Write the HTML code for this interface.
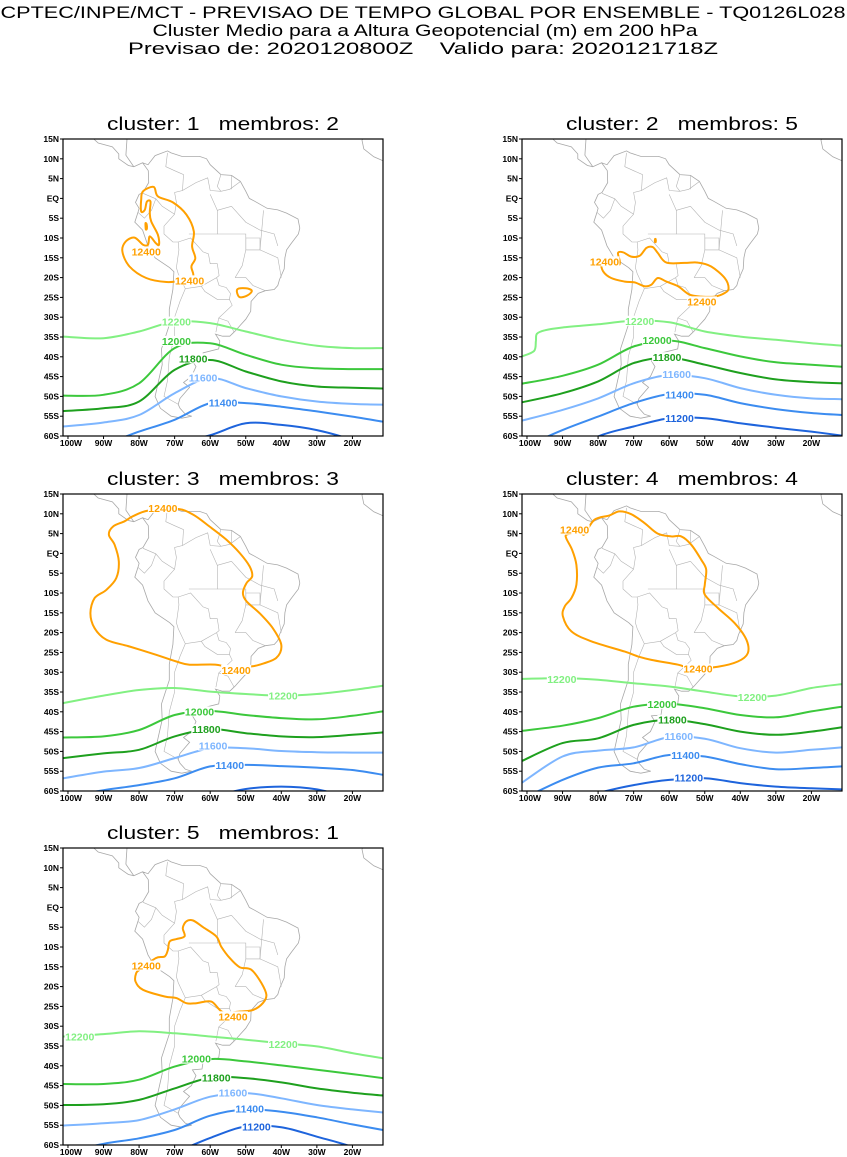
<!DOCTYPE html>
<html><head><meta charset="utf-8">
<style>
html,body{margin:0;padding:0;background:#fff;}
svg{display:block;}
text{font-family:"Liberation Sans",sans-serif;}
</style></head>
<body>
<svg id="chart" width="847" height="1157" viewBox="0 0 847 1157" xmlns="http://www.w3.org/2000/svg">
<rect width="847" height="1157" fill="#fff"/>
<g font-size="17" fill="#000">
<text x="423" y="18" text-anchor="middle" textLength="845" lengthAdjust="spacingAndGlyphs">CPTEC/INPE/MCT - PREVISAO DE TEMPO GLOBAL POR ENSEMBLE - TQ0126L028</text>
<text x="425" y="36" text-anchor="middle" textLength="545" lengthAdjust="spacingAndGlyphs">Cluster Medio para a Altura Geopotencial (m) em 200 hPa</text>
<text x="423" y="54" text-anchor="middle" textLength="590" lengthAdjust="spacingAndGlyphs">Previsao de: 2020120800Z&#160;&#160;&#160;&#160;Valido para: 2020121718Z</text>
</g>
</svg>
<script>
// ---- data ----
const LONS = [-101.4,-90,-80,-70,-60,-50,-40,-30,-20,-11.4];
const LEVELS = [12200,12000,11800,11600,11400,11200];
const LAT_TICKS = [15,10,5,0,-5,-10,-15,-20,-25,-30,-35,-40,-45,-50,-55,-60];
const LAT_LABELS = ["15N","10N","5N","EQ","5S","10S","15S","20S","25S","30S","35S","40S","45S","50S","55S","60S"];
const LON_TICKS = [-100,-90,-80,-70,-60,-50,-40,-30,-20];
const LON_LABELS = ["100W","90W","80W","70W","60W","50W","40W","30W","20W"];
const CLUSTERS = [1,2,3,4,5];
const MEMBROS = [2,5,3,4,1];

// panel 1
const p1_12200=[-34.9,-35.3,-33.6,-31.1,-31.5,-33.6,-35.7,-37.2,-37.8,-37.8];
const p1_12000=[-49.8,-49.6,-46.7,-37.8,-36.6,-39.5,-42.0,-42.9,-43.1,-43.1];
const p1_11800=[-53.7,-53.0,-51.3,-43.3,-40.8,-43.7,-46.2,-47.5,-47.8,-48.0];
const p1_11600=[-57.6,-56.6,-54.7,-49.2,-45.4,-47.9,-50.0,-51.3,-51.9,-52.1];
const p1_11400=[-64,-62,-58.9,-55.9,-51.7,-51.7,-52.6,-53.8,-55.1,-56.4];
const p1_11200=[-75,-70,-66,-62,-59.8,-56.8,-57.2,-58.5,-61,-64];
const p1_labelLon=[-69.5,-69.5,-64.8,-62,-56.4,null];
const p1_labelLat=[-31.1,-36,-40.4,-45.2,-51.6,null];
const p1_o1_lon=[-78.9,-75.9,-74.7,-70.5,-66.7,-64.6,-65.1,-64.2,-65.3,-64.8,-67.7,-72.3,-78.0,-82.7,-84.7,-83.8,-81.3,-78.9,-77.5,-77.0,-75.3,-74.4,-74.7,-76.6,-77.0,-76.8,-77.8,-78.4,-79.4,-79.4];
const p1_o1_lat=[1.8,2.9,0.5,-1.0,-4.1,-8.3,-12.1,-15.1,-17.2,-19.7,-20.7,-21.1,-20.1,-17.2,-13.4,-10.9,-9.9,-11.7,-11.7,-9.6,-11.3,-11.7,-9.2,-5.8,-3.7,-0.8,-0.8,-2.9,-3.3,-0.3];
const p1_o2_lon=[-52.4,-50,-48.3,-49.5,-51.8];
const p1_o2_lat=[-23.0,-22.7,-23.3,-24.5,-24.9];
const p1_o3_lon=[-78.2,-77.9,-77.8,-78.1];
const p1_o3_lat=[-6.3,-6.5,-7.6,-7.8];
const p1_oLabLon=[-78,-65.8];
const p1_oLabLat=[-13.4,-20.7];

// panel 2
const p2_12200_lon=[-101.4,-98,-97.5,-97.2,-95,-90,-80,-70,-60,-50,-40,-30,-20,-11.4];
const p2_12200_lat=[-39.9,-38.5,-36,-34.2,-33.3,-32.6,-31.8,-30.9,-31.3,-33.6,-34.9,-35.7,-36.6,-37.2];
const p2_12000=[-46.8,-44.8,-42,-37.4,-35.9,-37.8,-39.9,-41.4,-42,-42.5];
const p2_11800=[-51.5,-49.2,-46.2,-41.6,-40.2,-42,-44.1,-45.7,-46.4,-46.7];
const p2_11600=[-56.1,-53.4,-50.5,-46.7,-44.6,-45.4,-47.9,-49.6,-50.5,-50.7];
const p2_11400=[-63,-58.5,-55.1,-51.7,-49.4,-49.6,-51.7,-53.2,-54.2,-54.7];
const p2_11200=[-70,-65,-60.1,-57.6,-55.5,-55.5,-56.8,-57.9,-58.9,-59.9];
const p2_labelLon=[-68.3,-63.4,-60.6,-57.9,-57.1,-57.1];
const p2_labelLat=[-30.9,-35.7,-40.1,-44.4,-49.5,-55.5];
const p2_o1_lon=[-74.4,-73.0,-70.7,-68.3,-66.4,-64.6,-63.2,-60.8,-55.7,-51.9,-48.2,-44.4,-43.3,-44.4,-47.2,-51.0,-54.3,-57.5,-60.8,-63.2,-65.0,-66.9,-69.7,-72.5,-76.3,-78.6,-79.1,-77.7,-74.4,-73.9];
const p2_o1_lat=[-13.8,-13.6,-14.7,-14.5,-12.5,-12.3,-13.8,-16.2,-16.3,-16.2,-17.2,-20.1,-22.7,-23.9,-24.8,-24.8,-24.3,-22.2,-21.0,-20.1,-21.8,-22.2,-21.2,-21.0,-20.1,-18.4,-16.3,-15.9,-16.8,-15.9];
const p2_o2_lon=[-64.0,-63.8,-63.8,-64.0];
const p2_o2_lat=[-10.3,-10.3,-11.0,-11.0];
const p2_oLabLon=[-78.2,-50.8];
const p2_oLabLat=[-15.9,-26.0];

// panel 3
const p3_12200=[-37.8,-35.9,-34.5,-34,-34.9,-35.5,-35.9,-35.5,-34.5,-33.4];
const p3_12000=[-46.5,-46.2,-44.6,-40.8,-39.8,-40.8,-41.6,-41.9,-41,-39.9];
const p3_11800=[-51.7,-50.5,-49.6,-46.2,-44.4,-45.4,-46.2,-46.4,-45.8,-45.2];
const p3_11600=[-56.8,-55.1,-54.2,-51.7,-49.2,-49.2,-49.9,-50.2,-50.3,-50.3];
const p3_11400=[-61.5,-59.8,-58.5,-56.8,-53.8,-53.4,-53.7,-54.1,-54.7,-55.9];
const p3_11200=[-70,-67,-65,-63,-61.5,-59.5,-58.9,-59.6,-62,-65];
const p3_labelLon=[-39.5,-63,-61.1,-59.2,-54.5,null];
const p3_labelLat=[-35.9,-39.9,-44.4,-48.5,-53.4,null];
const p3_o1_lon=[-77.5,-69.5,-64.8,-60.2,-55.5,-51.7,-48.9,-48.2,-49.8,-50.8,-49.8,-46.1,-42.4,-40.0,-41.4,-46.1,-48.9,-53.6,-58.3,-65.8,-69.5,-75.2,-82.7,-89.2,-92.5,-93.7,-92.5,-89.2,-86.4,-85.7,-86.9,-88.5,-87.3,-84.1,-81.7];
const p3_o1_lat=[10.8,11.3,9.8,6.8,3.5,0.1,-3.3,-5.8,-7.5,-10.0,-12.1,-15.1,-18.9,-23.1,-26.4,-28.1,-28.6,-29.1,-28.1,-28.1,-27.3,-25.6,-23.5,-21.8,-18.9,-15.1,-11.3,-9.2,-6.2,-2.0,2.2,4.7,6.8,8.1,9.4];
const p3_oLabLon=[-73.3,-52.7];
const p3_oLabLat=[11.5,-29.4];

// panel 4
const p4_12200=[-31.7,-31.5,-31.9,-32.8,-33.6,-34.9,-36.1,-35.9,-34,-33];
const p4_12000=[-44.8,-43.5,-41.6,-38.7,-38,-39.1,-40.8,-41.4,-39.9,-38.7];
const p4_11800=[-52.4,-47.9,-46.7,-43.3,-42,-43.1,-45,-45.8,-45,-43.9];
const p4_11600=[-57.9,-51.3,-49.8,-49,-46.4,-46.8,-49.2,-50.3,-49.6,-49];
const p4_11400=[-62,-57.2,-54.1,-53,-50.9,-51.3,-53.2,-54.5,-54.2,-53.8];
const p4_11200=[-66,-63,-60.5,-58.5,-57.2,-56.8,-58,-58.9,-59.3,-59.6];
const p4_labelLon=[-36.6,-62,-59.1,-57.3,-55.4,-54.5];
const p4_labelLat=[-36.2,-38,-42,-46.1,-50.9,-56.6];
const p4_label2Lon=-90.2, p4_label2Lat=-31.7;
const p4_o1_lon=[-83.8,-81.0,-76.8,-74.0,-70.7,-67.0,-63.2,-59.4,-56.6,-53.8,-51.0,-49.6,-50.0,-50.0,-46.3,-41.6,-38.3,-37.9,-40.7,-46.3,-53.8,-57.5,-65.0,-68.8,-72.5,-81.9,-87.5,-89.9,-89.4,-87.5,-86.1,-86.1,-87.3,-88.9,-88.9,-86.6,-84.7];
const p4_o1_lat=[4.9,8.5,9.6,10.6,9.9,7.7,5.0,4.3,4.3,2.2,-1.6,-4.1,-7.9,-10.4,-13.8,-17.6,-21.8,-25.2,-27.3,-28.6,-29.0,-28.1,-26.9,-26.0,-24.8,-22.2,-19.7,-15.9,-13.4,-11.3,-7.9,-2.9,0.9,3.7,4.7,5.1,5.1];
const p4_oLabLon=[-86.6,-51.9];
const p4_oLabLat=[6.0,-29.1];

// panel 5
const p5_12200=[-32.6,-32.0,-31.3,-31.8,-32.6,-33.4,-34.3,-35.1,-36.8,-38.1];
const p5_12000=[-44.6,-44.6,-43.5,-40.2,-38.3,-38.9,-39.9,-41,-42.1,-43.1];
const p5_11800=[-49.9,-49.7,-48.6,-45.7,-43,-43.1,-44.2,-45.7,-46.8,-47.5];
const p5_11600=[-55.1,-54.5,-53.7,-51,-47.8,-46.9,-48.2,-49.9,-51,-51.8];
const p5_11400=[-62,-59.7,-58.3,-56.2,-52.6,-51,-51.6,-53,-54.8,-56.2];
const p5_11200=[-75,-70,-66,-62,-58.2,-55.3,-55.5,-57.9,-60.5,-64];
const p5_labelLon=[-39.5,-63.9,-58.3,-53.6,-48.9,-47.0];
const p5_labelLat=[-34.5,-38.2,-42.9,-46.8,-50.8,-55.3];
const p5_label2Lon=-96.7, p5_label2Lat=-32.6;
const p5_o1_lon=[-75.3,-72.8,-71.9,-71.4,-69.5,-67.2,-67.7,-66.7,-64.8,-62.0,-58.3,-56.9,-54.5,-51.7,-48.5,-45.6,-44.2,-45.2,-48.0,-51.7,-56.4,-59.7,-63.9,-66.7,-69.5,-72.8,-78.9,-81.0,-80.8,-79.8];
const p5_o1_lat=[-12.8,-12.4,-10.7,-8.6,-8.0,-7.3,-5.2,-3.5,-3.3,-5.0,-7.3,-9.9,-12.8,-15.1,-15.7,-19.1,-22.1,-24.2,-25.9,-26.3,-26.5,-23.8,-24.2,-24.2,-22.9,-22.5,-20.8,-18.7,-16.6,-15.7];
const p5_oLabLon=[-78,-53.6];
const p5_oLabLat=[-14.7,-27.5];

// geography (lon/lat)
const COAST_LON=[-101,-94,-91.5,-87.5,-85.7,-85.7,-83,-81.5,-79,-77.4,-77.3,-78.9,-80,-81,-80,-80.3,-81.2,-79,-77.5,-75.5,-71.4,-70.2,-70.5,-71.5,-71.5,-72.6,-73.7,-73.5,-74.5,-75.5,-74,-71,-68,-65.2,-67,-68.5,-69,-68.5,-65.8,-67.5,-65.3,-64,-65,-62.3,-62,-57.6,-57.3,-58.5,-56.5,-54.5,-53,-51.5,-50,-48.6,-48.5,-46.5,-44.5,-42,-41,-40.5,-39.2,-39,-38.5,-37.3,-35.2,-34.8,-35.3,-38.5,-41,-44,-47.5,-49,-50,-51.5,-54,-57,-60,-61,-63,-68,-71,-72,-75.5,-77.5,-79,-81.5,-83.7,-83.4,-87.5,-88.2,-88.5,-87.5];
const COAST_LAT=[17.5,16,14,13,11.2,10,8.3,8,9,7,4,1.5,1,-1,-2.5,-3.5,-6,-8,-12,-15,-17.5,-18.5,-23,-28,-32,-35,-38,-42,-46,-50,-53,-55,-55.5,-55,-54.5,-53,-52,-50.5,-47.7,-46.5,-45,-42.5,-41,-40.8,-39,-38,-36,-34.3,-34.8,-34.8,-33.5,-32,-30.5,-28.5,-26,-24,-23.3,-23,-22,-20.5,-17.8,-15,-13,-11.5,-9,-7.5,-5.2,-3.7,-2.9,-2.5,-0.7,0,1.8,4.3,5.8,6,8.5,10,10.6,10.6,11.5,12,10.8,8.5,9,8,10.9,15,15.8,15.7,17.5,21.5];
const BORDERS=[
 [[-72,11.5],[-72.5,8],[-70,7],[-67.5,6],[-67.8,2],[-70,1.5],[-69.5,-1],[-70,-4]],
 [[-67.8,2],[-64,4],[-60.7,5.2],[-60,2],[-57,1.8],[-54.5,2.3],[-51.6,4.2]],
 [[-78.9,1.3],[-75.3,-0.1],[-73.5,-2],[-70,-4]],
 [[-80.3,-3.5],[-78.5,-5],[-76.5,-3],[-75.3,-0.1]],
 [[-70,-4],[-73,-7],[-73,-9],[-70.5,-11],[-69,-11]],
 [[-69,-11],[-65.5,-10],[-62,-13.5],[-60.5,-14],[-60,-16.5],[-58,-16.5],[-57.5,-19.5],[-58.2,-20],[-62.5,-22.2],[-67,-22.8],[-69,-19],[-69.5,-17.5],[-68.8,-13],[-69,-11]],
 [[-67,-22.8],[-68.5,-26],[-70,-30],[-70,-35],[-71.5,-40],[-72,-46],[-73,-50],[-69,-52]],
 [[-62.5,-22.2],[-61.5,-23.5],[-58,-25.5],[-54.6,-25.5],[-54.3,-24],[-55.5,-22.5],[-57.5,-22],[-58.2,-20]],
 [[-54.6,-25.5],[-53.8,-27],[-57.6,-30.2],[-58.4,-33.8]],
 [[-57.6,-30.2],[-55,-31],[-53.3,-33.7]],
 [[-57,6],[-58,3],[-57,1.8]],[[-54,5.8],[-54,2.3]],
 [[-50,-10],[-46,-10],[-46,-13],[-50,-13],[-50,-10]],
 [[-58,-9],[-50,-9],[-50,-13]],[[-66,-9],[-58,-9],[-58,-3],[-60,1]],
 [[-54,-2],[-50,-6],[-46,-8],[-42,-9],[-41,-12]],[[-46,-13],[-41,-15],[-40,-20]],
 [[-53,-20],[-50,-20],[-48,-22],[-44.5,-23.3]],[[-53,-20],[-51,-17],[-50,-13]],
 [[-58,-3],[-54,-2]],[[-46,-13],[-45,-3]]
];
const AFRICA_LON=[-11.4,-14,-16.8,-17.3,-16.5,-16,-15];
const AFRICA_LAT=[9.5,10.5,12.5,14.7,16,18,21];

// ---- rendering ----
const NS="http://www.w3.org/2000/svg";
const svg=document.getElementById('chart');
const COLORS={12400:"#ffa000",12200:"#82f082",12000:"#3cc83c",11800:"#1ea01e",11600:"#7eb6ff",11400:"#3c8cf0",11200:"#1e64dc"};
const PANELS=[
 {x:63,y:139,lines:[p1_12200,p1_12000,p1_11800,p1_11600,p1_11400,p1_11200],labLon:p1_labelLon,labLat:p1_labelLat,
  loops:[[p1_o1_lon,p1_o1_lat],[p1_o2_lon,p1_o2_lat],[p1_o3_lon,p1_o3_lat]],oLon:p1_oLabLon,oLat:p1_oLabLat},
 {x:522,y:139,lines:[null,p2_12000,p2_11800,p2_11600,p2_11400,p2_11200],special:[p2_12200_lon,p2_12200_lat],labLon:p2_labelLon,labLat:p2_labelLat,
  loops:[[p2_o1_lon,p2_o1_lat],[p2_o2_lon,p2_o2_lat]],oLon:p2_oLabLon,oLat:p2_oLabLat},
 {x:63,y:494,lines:[p3_12200,p3_12000,p3_11800,p3_11600,p3_11400,p3_11200],labLon:p3_labelLon,labLat:p3_labelLat,
  loops:[[p3_o1_lon,p3_o1_lat]],oLon:p3_oLabLon,oLat:p3_oLabLat},
 {x:522,y:494,lines:[p4_12200,p4_12000,p4_11800,p4_11600,p4_11400,p4_11200],labLon:p4_labelLon,labLat:p4_labelLat,extra:[p4_label2Lon,p4_label2Lat],
  loops:[[p4_o1_lon,p4_o1_lat]],oLon:p4_oLabLon,oLat:p4_oLabLat},
 {x:63,y:848,lines:[p5_12200,p5_12000,p5_11800,p5_11600,p5_11400,p5_11200],labLon:p5_labelLon,labLat:p5_labelLat,extra:[p5_label2Lon,p5_label2Lat],
  loops:[[p5_o1_lon,p5_o1_lat]],oLon:p5_oLabLon,oLat:p5_oLabLat}
];
const W=320,H=297;
function mk(tag,attrs,parent){const e=document.createElementNS(NS,tag);for(const k in attrs)e.setAttribute(k,attrs[k]);parent.appendChild(e);return e;}
function smooth(pts,closed){
 const n=pts.length;if(n<2)return"";
 const get=i=>closed?pts[(i+n)%n]:pts[Math.max(0,Math.min(n-1,i))];
 let d="M"+pts[0][0].toFixed(1)+","+pts[0][1].toFixed(1);
 const segs=closed?n:n-1;
 for(let i=0;i<segs;i++){
  const p0=get(i-1),p1=get(i),p2=get(i+1),p3=get(i+2);
  const c1=[p1[0]+(p2[0]-p0[0])/6,p1[1]+(p2[1]-p0[1])/6];
  const c2=[p2[0]-(p3[0]-p1[0])/6,p2[1]-(p3[1]-p1[1])/6];
  d+="C"+c1[0].toFixed(1)+","+c1[1].toFixed(1)+" "+c2[0].toFixed(1)+","+c2[1].toFixed(1)+" "+p2[0].toFixed(1)+","+p2[1].toFixed(1);
 }
 return d+(closed?"Z":"");
}
PANELS.forEach((P,pi)=>{
 const sx=lon=>P.x+(lon+101.4)/90*W;
 const sy=lat=>P.y+(15-lat)/75*H;
 const g=mk('g',{},svg);
 
 
 const t=mk('text',{x:P.x+160,y:P.y-9,'font-size':18,'text-anchor':'middle',textLength:232,lengthAdjust:'spacingAndGlyphs'},g);
 
 
 t.textContent='cluster: '+CLUSTERS[pi]+'\u00a0\u00a0\u00a0membros: '+MEMBROS[pi];
 const cid='clip'+pi;
 const cp=mk('clipPath',{id:cid},g);mk('rect',{x:P.x,y:P.y,width:W,height:H},cp);
 const m=mk('g',{'clip-path':'url(#'+cid+')'},g);
 const coast=mk('path',{d:'M'+COAST_LON.map((l,i)=>sx(l).toFixed(1)+','+sy(COAST_LAT[i]).toFixed(1)).join('L'),fill:'none',stroke:'#a8a8a8','stroke-width':0.8},m);
 
 
 BORDERS.forEach(b=>{const e=mk('path',{d:'M'+b.map(p=>sx(p[0]).toFixed(1)+','+sy(p[1]).toFixed(1)).join('L'),fill:'none',stroke:'#b4b4b4','stroke-width':0.6},m);
  
  });
 const af=mk('path',{d:'M'+AFRICA_LON.map((l,i)=>sx(l).toFixed(1)+','+sy(AFRICA_LAT[i]).toFixed(1)).join('L'),fill:'none',stroke:'#a8a8a8','stroke-width':0.8},m);
 
 
 P.lines.forEach((arr,li)=>{
  let pts;
  if(arr)pts=LONS.map((l,i)=>[sx(l),sy(arr[i])]);
  else pts=P.special[0].map((l,i)=>[sx(l),sy(P.special[1][i])]);
  const e=mk('path',{d:smooth(pts,false),fill:'none',stroke:COLORS[LEVELS[li]],'stroke-width':2},m);
  
  
 });
 P.loops.forEach(lp=>{
  const pts=lp[0].map((l,i)=>[sx(l),sy(lp[1][i])]);
  const e=mk('path',{d:smooth(pts,true),fill:'none',stroke:COLORS[12400],'stroke-width':2},m);
  
  
 });
 function label(lon,lat,lev){
  const x=sx(lon),y=sy(lat);
  mk('rect',{x:x-15,y:y-5,width:30,height:10,fill:'#fff'},m);
  const e=mk('text',{x:x,y:y+4,'font-size':10.5,'font-weight':'bold','text-anchor':'middle',fill:COLORS[lev]},m);
  
  
  e.textContent=lev;
 }
 P.labLon.forEach((l,i)=>{if(l!==null)label(l,P.labLat[i],LEVELS[i]);});
 if(P.extra)label(P.extra[0],P.extra[1],12200);
 P.oLon.forEach((l,i)=>label(l,P.oLat[i],12400));
 const fr=mk('rect',{x:P.x,y:P.y,width:W,height:H,fill:'none',stroke:'#000','stroke-width':1.2},g);
 
 
 LAT_TICKS.forEach((lat,i)=>{
  const y=sy(lat);
  mk('line',{x1:P.x-3,x2:P.x,y1:y,y2:y,stroke:'#000','stroke-width':1},g);
  const e=mk('text',{x:P.x-4,y:y+3,'font-size':8.5,'font-weight':'bold','text-anchor':'end'},g);
  
  
  e.textContent=LAT_LABELS[i];
 });
 LON_TICKS.forEach((lon,i)=>{
  const x=sx(lon);
  mk('line',{x1:x,x2:x,y1:P.y+H,y2:P.y+H+3,stroke:'#000','stroke-width':1},g);
  const e=mk('text',{x:x+(i==0?3:0),y:P.y+H+10,'font-size':8.5,'font-weight':'bold','text-anchor':'middle'},g);
  
  
  e.textContent=LON_LABELS[i];
 });
});
</script>
</body></html>
